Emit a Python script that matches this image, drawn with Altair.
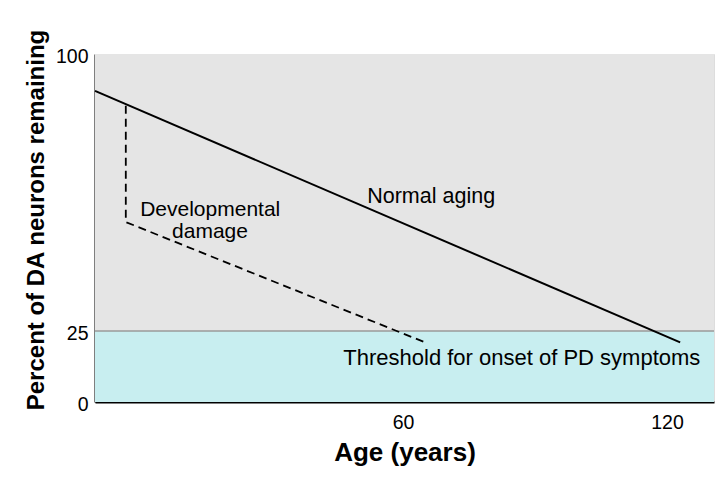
import altair as alt
import pandas as pd

# ---- data ----
normal_age = [0, 123]
normal_pct = [90, 21]

dev_age = [6, 6, 65]
dev_pct = [86, 54.5, 21]

threshold = 25
y_ticks = [0, 25, 100]
x_ticks = [60, 120]

# schematic (piecewise) axes of the original figure
x_domain = [0, 60, 120, 130.7]
x_range = [0, 308, 572, 619]
y_domain = [0, 25, 100]
y_range = [348, 277, 0]

W, H = 619, 348
FONT = "Liberation Sans, Arial, sans-serif"

xs = alt.Scale(domain=x_domain, range=x_range, nice=False, zero=False)
ys = alt.Scale(domain=y_domain, range=y_range, nice=False, zero=False)

normal_df = pd.DataFrame({"age": normal_age, "pct": normal_pct, "o": range(len(normal_age))})
dev_df = pd.DataFrame({"age": dev_age, "pct": dev_pct, "o": range(len(dev_age))})
bands_df = pd.DataFrame({
    "x0": [x_domain[0], x_domain[0]],
    "x1": [x_domain[-1], x_domain[-1]],
    "y0": [threshold, 0],
    "y1": [100, threshold],
    "zone": ["above", "below"],
})

bands = alt.Chart(bands_df).mark_rect(strokeWidth=0).encode(
    x=alt.X("x0:Q", scale=xs, axis=alt.Axis(
        values=x_ticks, ticks=False, grid=False, domainColor="black", domainWidth=2,
        labelFont=FONT, labelFontSize=19.5, labelColor="black", labelPadding=11, title=None)),
    x2="x1:Q",
    y=alt.Y("y0:Q", scale=ys, axis=alt.Axis(
        values=y_ticks, ticks=False, grid=False, domainColor="black", domainWidth=2,
        labelFont=FONT, labelFontSize=19.5, labelColor="black", labelPadding=7,
        labelOffset=2, title=None)),
    y2="y1:Q",
    color=alt.Color("zone:N", scale=alt.Scale(domain=["above", "below"],
                                              range=["#e5e5e5", "#c8eef0"]), legend=None),
)

thr_rule = alt.Chart(pd.DataFrame({"t": [threshold]})).mark_rule(
    color="#9a9a9a", strokeWidth=1.5).encode(y=alt.Y("t:Q", scale=ys))

normal_line = alt.Chart(normal_df).mark_line(color="black", strokeWidth=2).encode(
    x=alt.X("age:Q", scale=xs), y=alt.Y("pct:Q", scale=ys), order="o:Q")

dev_line = alt.Chart(dev_df).mark_line(color="black", strokeWidth=1.8,
                                       strokeDash=[8, 5]).encode(
    x=alt.X("age:Q", scale=xs), y=alt.Y("pct:Q", scale=ys), order="o:Q")


def label(text, x, y, align="center", size=21):
    return alt.Chart(pd.DataFrame({"t": [text]})).mark_text(
        font=FONT, fontSize=size, color="black", align=align, baseline="alphabetic"
    ).encode(x=alt.X("xx:Q", scale=xs), y=alt.Y("yy:Q", scale=ys),
             text="t:N").transform_calculate(xx=str(x), yy=str(y))


t_normal = label("Normal aging", 66.4, 59.6, size=21.5)
t_dev1 = label("Developmental", 8.8, 56.2, align="left")
t_dev2 = label("damage", 22.4, 50.1)
t_thr = label("Threshold for onset of PD symptoms", 87.0, 13.0, size=22)

y_title = alt.Chart(pd.DataFrame({"t": ["Percent of DA neurons remaining"]})).mark_text(
    font=FONT, fontSize=24, fontWeight="bold", color="black", angle=270,
    align="center", baseline="middle").encode(
    x=alt.value(-58), y=alt.value(166), text="t:N")

x_title = alt.Chart(pd.DataFrame({"t": ["Age (years)"]})).mark_text(
    font=FONT, fontSize=26, fontWeight="bold", color="black",
    align="center", baseline="middle").encode(
    x=alt.value(310), y=alt.value(399), text="t:N")

chart = alt.layer(
    bands, thr_rule, normal_line, dev_line, t_normal, t_dev1, t_dev2, t_thr, y_title, x_title
).properties(
    width=W, height=H,
    autosize=alt.AutoSizeParams(type="none"),
    padding={"left": 87, "top": 46, "right": 6, "bottom": 75},
).configure_view(strokeWidth=0).configure(background="white")

chart.save("out.html", embed_options={"renderer": "svg", "actions": False})
